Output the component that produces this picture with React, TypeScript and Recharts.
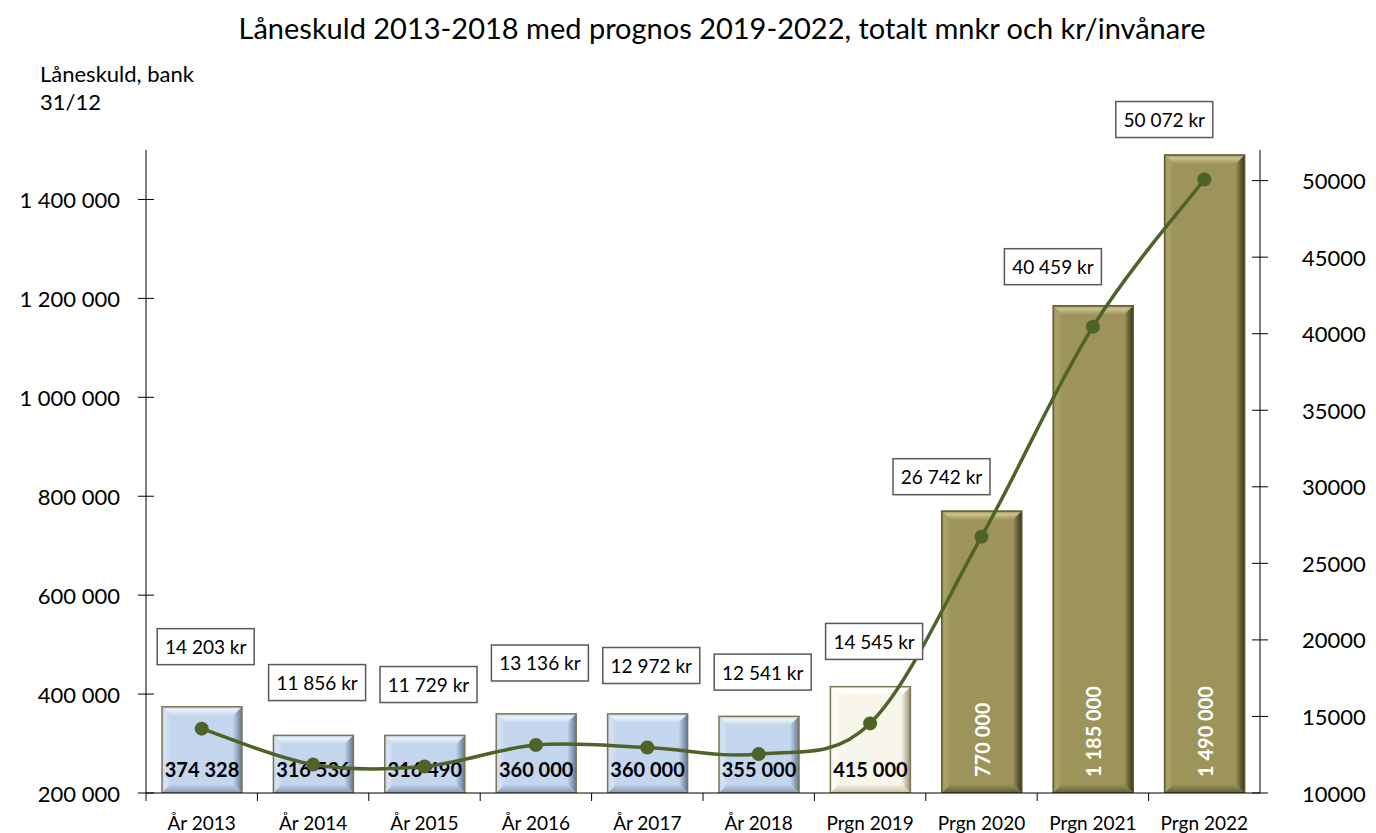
import React from "react";
import {
  ComposedChart,
  Bar,
  Line,
  XAxis,
  YAxis,
  LabelList,
} from "recharts";

const categories = [
  "År 2013",
  "År 2014",
  "År 2015",
  "År 2016",
  "År 2017",
  "År 2018",
  "Prgn 2019",
  "Prgn 2020",
  "Prgn 2021",
  "Prgn 2022",
];
// låneskuld totalt
const loanTotal = [374328, 316536, 316490, 360000, 360000, 355000, 415000, 770000, 1185000, 1490000];
// kr per invånare
const perCapita = [14203, 11856, 11729, 13136, 12972, 12541, 14545, 26742, 40459, 50072];

const leftTicks = [200000, 400000, 600000, 800000, 1000000, 1200000, 1400000];
const rightTicks = [10000, 15000, 20000, 25000, 30000, 35000, 40000, 45000, 50000];

const W = 1376;
const H = 833;
const LEFT_W = 146;
const RIGHT_W = 116;
const BAND = (W - LEFT_W - RIGHT_W) / categories.length;
const FONT = "Lato, 'Noto Sans', sans-serif";

const data = categories.map((name, i) => ({
  name,
  total: loanTotal[i],
  perCapita: perCapita[i],
}));

const fmt = (v: number) => String(Math.round(v)).replace(/\B(?=(\d{3})+(?!\d))/g, " ");

// utfall = blå, prognos 2019 = ljus, prognos 2020- = oliv
const palettes: Record<string, any> = {
  actual: { face: "#c3d6ee", top: "#eaf1fa", left: "#d6e3f3", right: "#647790", bottom: "#8799b2", border: "#7d7650" },
  cream: { face: "#f8f6ea", top: "#ffffff", left: "#fdfcf6", right: "#959178", bottom: "#c2bea3", border: "#7d7650" },
  olive: { face: "#9d945c", top: "#cbc38d", left: "#aaa26b", right: "#37331b", bottom: "#645e32", border: "#5e5830" },
};
const kindOf = (i: number) => (i < 6 ? "actual" : i === 6 ? "cream" : "olive");

// Excel-liknande utjämnad linje (Catmull-Rom)
function smoothCurve(context: any) {
  let pts: number[][] = [];
  return {
    areaStart() {},
    areaEnd() {},
    lineStart() {
      pts = [];
    },
    lineEnd() {
      const n = pts.length;
      if (!n) return;
      context.moveTo(pts[0][0], pts[0][1]);
      for (let i = 0; i < n - 1; i++) {
        const p0 = pts[Math.max(0, i - 1)];
        const p1 = pts[i];
        const p2 = pts[i + 1];
        const p3 = pts[Math.min(n - 1, i + 2)];
        const t = 1 / 6;
        context.bezierCurveTo(
          p1[0] + (p2[0] - p0[0]) * t,
          p1[1] + (p2[1] - p0[1]) * t,
          p2[0] - (p3[0] - p1[0]) * t,
          p2[1] - (p3[1] - p1[1]) * t,
          p2[0],
          p2[1]
        );
      }
    },
    point(x: number, y: number) {
      pts.push([+x, +y]);
    },
  };
}

function BevelDefs() {
  return (
    <defs>
      {Object.keys(palettes).map((k) => {
        const c = palettes[k];
        return (
          <React.Fragment key={k}>
            <linearGradient id={`top-${k}`} x1="0" y1="0" x2="0" y2="1">
              <stop offset="0%" stopColor={c.face} />
              <stop offset="35%" stopColor={c.top} />
              <stop offset="100%" stopColor={c.face} />
            </linearGradient>
            <linearGradient id={`left-${k}`} x1="0" y1="0" x2="1" y2="0">
              <stop offset="0%" stopColor={c.face} />
              <stop offset="40%" stopColor={c.left} />
              <stop offset="100%" stopColor={c.face} />
            </linearGradient>
            <linearGradient id={`right-${k}`} x1="0" y1="0" x2="1" y2="0">
              <stop offset="0%" stopColor={c.face} />
              <stop offset="100%" stopColor={c.right} />
            </linearGradient>
            <linearGradient id={`bottom-${k}`} x1="0" y1="0" x2="0" y2="1">
              <stop offset="0%" stopColor={c.face} />
              <stop offset="100%" stopColor={c.bottom} />
            </linearGradient>
          </React.Fragment>
        );
      })}
    </defs>
  );
}

function BevelBar(props: any) {
  const { x, y, width: w, height: h, index, payload } = props;
  if (h <= 0) return null;
  const kind = kindOf(index);
  const c = palettes[kind];
  const b = Math.min(9, w / 4, h / 4);
  const cx = x + w / 2;
  const val = fmt(payload.total);
  return (
    <g>
      <rect x={x} y={y} width={w} height={h} fill={c.face} />
      <polygon points={`${x},${y} ${x + w},${y} ${x + w - b},${y + b} ${x + b},${y + b}`} fill={`url(#top-${kind})`} />
      <polygon points={`${x},${y} ${x + b},${y + b} ${x + b},${y + h - b} ${x},${y + h}`} fill={`url(#left-${kind})`} />
      <polygon points={`${x + w},${y} ${x + w},${y + h} ${x + w - b},${y + h - b} ${x + w - b},${y + b}`} fill={`url(#right-${kind})`} />
      <polygon points={`${x},${y + h} ${x + b},${y + h - b} ${x + w - b},${y + h - b} ${x + w},${y + h}`} fill={`url(#bottom-${kind})`} />
      <rect x={x} y={y} width={w} height={h} fill="none" stroke={c.border} strokeWidth={1.5} />
      {kind === "olive" ? (
        <text
          x={cx}
          y={y + h - 16}
          transform={`rotate(-90 ${cx} ${y + h - 16})`}
          textAnchor="start"
          dominantBaseline="central"
          fill="#ffffff"
          fontFamily={FONT}
          fontWeight={700}
          fontSize={20}
        >
          {val}
        </text>
      ) : (
        <text
          x={cx}
          y={y + h - 16}
          textAnchor="middle"
          fill="#000000"
          fontFamily={FONT}
          fontWeight={700}
          fontSize={20}
        >
          {val}
        </text>
      )}
    </g>
  );
}

function KrLabel(props: any) {
  const vb = props.viewBox || {};
  const px = vb.x ?? props.x;
  const py = vb.y ?? props.y;
  const value = props.value;
  if (px == null || py == null) return null;
  const steep = value > 20000;
  const cx = px + (steep ? -40 : 4);
  const cy = py + (steep ? -60 : -82);
  const bw = 97;
  const bh = 36;
  return (
    <g>
      <rect x={cx - bw / 2} y={cy - bh / 2} width={bw} height={bh} fill="#ffffff" stroke="#595959" strokeWidth={1.5} />
      <text x={cx} y={cy} textAnchor="middle" dominantBaseline="central" fill="#000" fontFamily={FONT} fontSize={19}>
        {`${fmt(value)} kr`}
      </text>
    </g>
  );
}

function LeftTick(props: any) {
  const { x, y, payload } = props;
  return (
    <g>
      <line x1={x - 8} x2={x + 8} y1={y} y2={y} stroke="#000" strokeWidth={1} />
      <text x={x - 26} y={y} textAnchor="end" dominantBaseline="central" fill="#000" fontFamily={FONT} fontSize={22}>
        {fmt(payload.value)}
      </text>
    </g>
  );
}

function RightTick(props: any) {
  const { x, y, payload } = props;
  return (
    <g>
      <line x1={x - 8} x2={x + 8} y1={y} y2={y} stroke="#000" strokeWidth={1} />
      <text x={x + 42} y={y} textAnchor="start" dominantBaseline="central" fill="#000" fontFamily={FONT} fontSize={22}>
        {payload.value}
      </text>
    </g>
  );
}

function CatTick(props: any) {
  const { x, y, payload } = props;
  const edge = x - BAND / 2;
  return (
    <g>
      <line x1={edge} x2={edge} y1={y} y2={y + 8} stroke="#000" strokeWidth={1} />
      <text x={x} y={y + 29} textAnchor="middle" dominantBaseline="central" fill="#000" fontFamily={FONT} fontSize={19}>
        {payload.value}
      </text>
    </g>
  );
}

export default function App() {
  return (
    <div style={{ position: "absolute", left: 0, top: 0, width: W, height: H, background: "#fff", fontFamily: FONT }}>
      <div
        style={{
          position: "absolute",
          left: 0,
          width: W + 68,
          top: 9,
          textAlign: "center",
          fontSize: 29,
          color: "#000",
          lineHeight: "38px",
        }}
      >
        Låneskuld 2013-2018 med prognos 2019-2022, totalt mnkr och kr/invånare
      </div>
      <div style={{ position: "absolute", left: 40, top: 60, fontSize: 22, lineHeight: "28px", color: "#000" }}>
        Låneskuld, bank
        <br />
        31/12
      </div>
      <ComposedChart
        width={W}
        height={H}
        data={data}
        margin={{ top: 150, right: 0, bottom: 0, left: 0 }}
        barCategoryGap={0}
      >
        <BevelDefs />
        <XAxis
          dataKey="name"
          height={40}
          tickSize={0}
          tickMargin={0}
          tickLine={false}
          axisLine={{ stroke: "#000", strokeWidth: 1 }}
          tick={<CatTick />}
          interval={0}
        />
        <YAxis
          yAxisId="left"
          orientation="left"
          width={LEFT_W}
          domain={[200000, 1500000]}
          ticks={leftTicks}
          allowDataOverflow
          tickSize={0}
          tickMargin={0}
          tickLine={false}
          axisLine={{ stroke: "#000", strokeWidth: 1 }}
          tick={<LeftTick />}
        />
        <YAxis
          yAxisId="right"
          orientation="right"
          width={RIGHT_W}
          domain={[10000, 52000]}
          ticks={rightTicks}
          allowDataOverflow
          tickSize={0}
          tickMargin={0}
          tickLine={false}
          axisLine={{ stroke: "#000", strokeWidth: 1 }}
          tick={<RightTick />}
        />
        <Bar yAxisId="left" dataKey="total" barSize={80} shape={<BevelBar />} isAnimationActive={false} />
        <Line
          yAxisId="right"
          dataKey="perCapita"
          type={smoothCurve as any}
          stroke="#4f6228"
          strokeWidth={3.5}
          dot={{ r: 7, fill: "#4f6228", stroke: "#4f6228", strokeWidth: 0 }}
          activeDot={false}
          isAnimationActive={false}
        >
          <LabelList dataKey="perCapita" content={<KrLabel />} />
        </Line>
      </ComposedChart>
    </div>
  );
}
